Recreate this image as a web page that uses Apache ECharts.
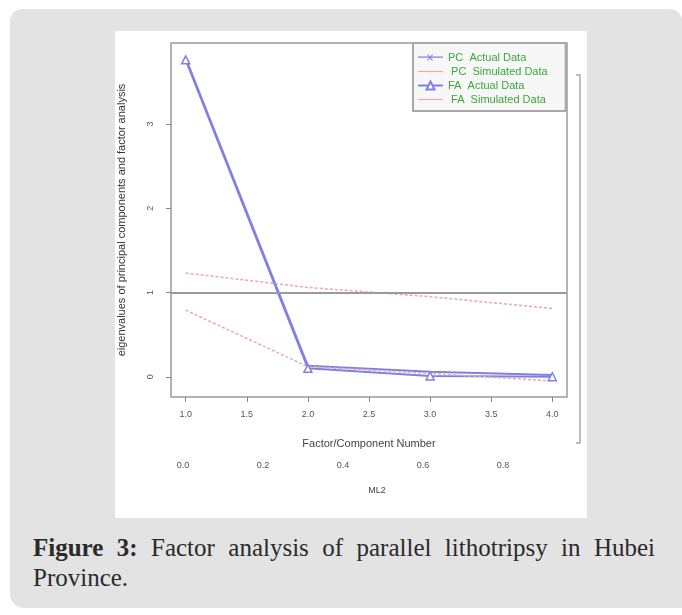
<!DOCTYPE html>
<html>
<head>
<meta charset="utf-8">
<script src="https://cdn.jsdelivr.net/npm/echarts@6/dist/echarts.min.js"></script>
<style>
html,body{margin:0;padding:0;background:#fff;width:682px;height:615px;overflow:hidden;}
#box{position:absolute;left:10px;top:9px;width:672px;height:599px;background:#e3e3e3;border-radius:12px 12px 0 14px;}
#chart{position:absolute;left:115px;top:31px;width:472px;height:487px;background:#fff;}
#cap{position:absolute;left:33px;top:533px;width:622px;font-family:"Liberation Serif","Times New Roman",serif;font-size:25px;line-height:30px;color:#2a2a2a;}
#cap .l1{text-align:justify;text-align-last:justify;display:block;}
#cap b{font-weight:bold;}
</style>
</head>
<body>
<div id="box"></div>
<div id="chart"></div>
<div id="cap"><div class="l1"><b>Figure 3:</b> Factor analysis of parallel lithotripsy in Hubei</div><div>Province.</div></div>
<script>
// ---- data ----
const components = [1, 2, 3, 4];
const pcActual = [3.78, 0.13, 0.06, 0.02];
const pcSimulated = [1.23, 1.06, 0.95, 0.81];
const faActual = [3.76, 0.10, 0.01, 0.00];
const faSimulated = [0.79, 0.12, 0.04, -0.05];
const xTicks = [1, 1.5, 2, 2.5, 3, 3.5, 4];
const yTicks = [0, 1, 2, 3];
const ml2Ticks = [0, 0.2, 0.4, 0.6, 0.8];
const seriesNames = ['PC  Actual Data', ' PC  Simulated Data', 'FA  Actual Data', ' FA  Simulated Data'];

const pairs = arr => components.map((c, i) => [c, arr[i]]);

const chart = echarts.init(document.getElementById('chart'), null, {renderer: 'canvas'});
const blue = '#8080e4';
const pink = '#e8aaaa';
const axisFont = {fontFamily: 'Liberation Sans, Arial, sans-serif', fontSize: 9, color: '#555'};
const lineIcon = 'path://M0,4.4H25V5.6H0Z';
const crossIcon = 'path://M0,4.4H25V5.6H0Z M10,2L15,8L14.2,8.6L9.2,2.6Z M15,2.6L10,8.6L9.2,8L14.2,2Z';

const option = {
  animation: false,
  backgroundColor: '#fff',
  grid: [
    {left: 56, top: 12, width: 396, height: 354, show: true, borderColor: '#9a9a9a', borderWidth: 1.5, containLabel: false, outerBoundsMode: 'none'},
    {left: 68, top: 423, width: 400, height: 1, show: false, containLabel: false, outerBoundsMode: 'none'},
    {left: 400, top: 44, width: 65, height: 368, show: false, containLabel: false, outerBoundsMode: 'none'}
  ],
  xAxis: [
    {
      gridIndex: 0, type: 'value', min: 0.88, max: 4.12,
      name: 'Factor/Component Number', nameLocation: 'middle', nameGap: 41,
      nameTextStyle: {fontFamily: 'Liberation Sans, Arial, sans-serif', fontSize: 11, color: '#444'},
      axisLine: {show: false, onZero: false},
      axisTick: {show: true, length: 5, lineStyle: {color: '#888'}, customValues: xTicks},
      axisLabel: Object.assign({margin: 13, customValues: xTicks, formatter: v => v.toFixed(1)}, axisFont),
      splitLine: {show: false}
    },
    {
      gridIndex: 1, type: 'value', min: 0, max: 1.0,
      name: 'ML2', nameLocation: 'middle', nameGap: 31,
      nameTextStyle: {fontFamily: 'Liberation Sans, Arial, sans-serif', fontSize: 9, color: '#444', padding: [0, 12, 0, 0]},
      axisLine: {show: false, onZero: false}, axisTick: {show: false},
      axisLabel: Object.assign({margin: 6, customValues: ml2Ticks, formatter: v => v.toFixed(1)}, axisFont),
      splitLine: {show: false}
    },
    {gridIndex: 2, type: 'value', show: false}
  ],
  yAxis: [
    {
      gridIndex: 0, type: 'value', min: -0.24, max: 3.96,
      name: 'eigenvalues of principal components and factor analysis', nameLocation: 'middle', nameGap: 44,
      nameTextStyle: {fontFamily: 'Liberation Sans, Arial, sans-serif', fontSize: 11, color: '#333'},
      axisLine: {show: false, onZero: false},
      axisTick: {show: true, length: 5, lineStyle: {color: '#888'}, customValues: yTicks},
      axisLabel: Object.assign({margin: 16, rotate: 90, customValues: yTicks, formatter: v => String(v)}, axisFont),
      splitLine: {show: false}
    },
    {gridIndex: 1, type: 'value', show: false},
    {
      gridIndex: 2, type: 'value', position: 'right', min: 0, max: 1,
      axisLine: {show: true, onZero: false, lineStyle: {color: '#aaa', width: 1.5}},
      axisTick: {show: true, inside: true, length: 4, lineStyle: {color: '#aaa', width: 1.5}, customValues: [0, 1]},
      axisLabel: {show: false}, splitLine: {show: false}
    }
  ],
  legend: {
    orient: 'vertical', left: 298, top: 12,
    padding: [9, 18, 6, 4],
    itemWidth: 25, itemHeight: 10, itemGap: 3,
    backgroundColor: '#f7f7f7', borderColor: '#a8a8a8', borderWidth: 2, borderRadius: 0,
    textStyle: {fontFamily: 'Liberation Sans, Arial, sans-serif', fontSize: 11, color: '#3aa83a'},
    data: [
      {name: seriesNames[0], icon: crossIcon},
      {name: seriesNames[1], icon: lineIcon},
      {name: seriesNames[2]},
      {name: seriesNames[3], icon: lineIcon}
    ]
  },
  series: [
    {
      name: seriesNames[0], type: 'line', xAxisIndex: 0, yAxisIndex: 0,
      data: pairs(pcActual), symbol: 'none',
      lineStyle: {color: blue, width: 2}, itemStyle: {color: blue}
    },
    {
      name: seriesNames[1], type: 'line', xAxisIndex: 0, yAxisIndex: 0,
      data: pairs(pcSimulated), symbol: 'none',
      lineStyle: {color: pink, width: 1.5, type: [3, 2]}, itemStyle: {color: pink},
      markLine: {
        silent: true, symbol: 'none', label: {show: false},
        lineStyle: {color: '#9a9a9a', width: 2, type: 'solid'},
        data: [{yAxis: 1}]
      }
    },
    {
      name: seriesNames[2], type: 'line', xAxisIndex: 0, yAxisIndex: 0,
      data: pairs(faActual), symbol: 'triangle', symbolSize: 8,
      lineStyle: {color: blue, width: 2}, itemStyle: {color: '#fff', borderColor: blue, borderWidth: 1.5}
    },
    {
      name: seriesNames[3], type: 'line', xAxisIndex: 0, yAxisIndex: 0,
      data: pairs(faSimulated), symbol: 'none',
      lineStyle: {color: pink, width: 1.5, type: [3, 2]}, itemStyle: {color: pink}
    }
  ]
};
chart.setOption(option);
</script>
</body>
</html>
